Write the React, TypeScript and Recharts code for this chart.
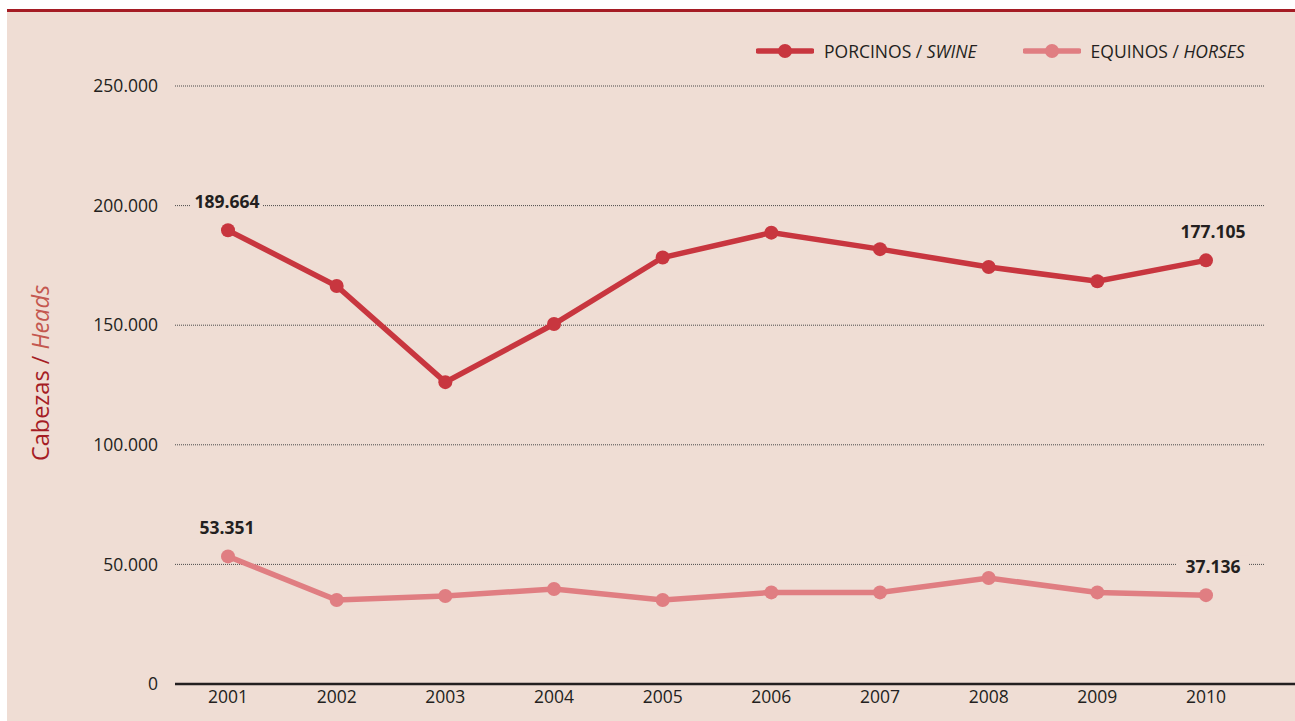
import { LineChart, Line, XAxis, YAxis, CartesianGrid } from 'recharts'

const years = ['2001', '2002', '2003', '2004', '2005', '2006', '2007', '2008', '2009', '2010']
const porcinos = [189664, 166400, 126200, 150500, 178300, 188700, 181800, 174300, 168400, 177105]
const equinos = [53351, 35100, 36800, 39700, 35100, 38300, 38300, 44300, 38300, 37136]
const yTicks = [0, 50000, 100000, 150000, 200000, 250000]

const data = years.map((year, i) => ({
  year,
  porcinos: porcinos[i],
  equinos: equinos[i],
}))

const FONT = '"Open Sans", "Noto Sans", sans-serif'
const TEXT = '#231F20'
const RED = '#C8363F'
const PINK = '#E07E82'
const BG = '#EFDDD4'

const fmt = (v: number) =>
  v === 0 ? '0' : Math.round(v).toString().replace(/\B(?=(\d{3})+(?!\d))/g, '.')

function endLabel(props: any) {
  const { x, y, value, index } = props
  if (index !== 0 && index !== years.length - 1) return null
  const cx = x + (index === 0 ? -1 : 7)
  const cy = y - 29
  const w = 72
  return (
    <g>
      <rect x={cx - w / 2} y={cy - 11} width={w} height={22} fill={BG} />
      <text
        x={cx}
        y={cy}
        textAnchor="middle"
        dominantBaseline="central"
        fontFamily={FONT}
        fontWeight={700}
        fontSize={17.5}
        fill={TEXT}
      >
        {fmt(value)}
      </text>
    </g>
  )
}

function gridLine(props: any) {
  const { y1, y2, x1, x2 } = props
  if (Math.abs(y1 - 672) < 2) return <g key={props.key ?? y1} />
  return (
    <line
      key={props.key ?? y1}
      x1={x1}
      x2={x2 - 30}
      y1={y1}
      y2={y2}
      stroke="#4a4a4a"
      strokeWidth={1}
      strokeDasharray="1 1"
    />
  )
}

function LegendBox() {
  const items = [
    { color: RED, main: 'PORCINOS / ', it: 'SWINE', gap: 0 },
    { color: PINK, main: 'EQUINOS / ', it: 'HORSES', gap: 46 },
  ]
  return (
    <div style={{ display: 'flex', alignItems: 'center', fontFamily: FONT, fontSize: 17.5, color: TEXT }}>
      {items.map((it) => (
        <div key={it.main} style={{ display: 'flex', alignItems: 'center', marginLeft: it.gap }}>
          <svg width={58} height={16} style={{ marginRight: 10 }}>
            <line x1={2} x2={56} y1={8} y2={8} stroke={it.color} strokeWidth={5.5} strokeLinecap="round" />
            <circle cx={29} cy={8} r={7} fill={it.color} />
          </svg>
          <span>
            {it.main}
            <i>{it.it}</i>
          </span>
        </div>
      ))}
    </div>
  )
}

function YLabel(props: any) {
  const vb = props.viewBox
  const x = 33
  const y = vb.y + vb.height / 2 - 12
  return (
    <text
      x={x}
      y={y}
      transform={`rotate(-90 ${x} ${y})`}
      textAnchor="middle"
      dominantBaseline="central"
      fontFamily={FONT}
      fontSize={23.5}
    >
      <tspan fill="#A51C24">Cabezas / </tspan>
      <tspan fill="#C4574F" fontStyle="italic">Heads</tspan>
    </text>
  )
}

export default function App() {
  return (
    <div style={{ position: 'absolute', left: 0, top: 0, width: 1295, height: 721, background: '#fff', overflow: 'hidden' }}>
      <div style={{ position: 'absolute', left: 7, top: 9, width: 1288, height: 3, background: '#A51C24' }} />
      <div style={{ position: 'absolute', left: 7, top: 12, width: 1288, height: 709, background: BG }}>
        <LineChart width={1288} height={709} data={data} margin={{ top: 74, right: 0, bottom: 0, left: 0 }}>
          <CartesianGrid vertical={false} horizontal={gridLine} />
          <XAxis
            dataKey="year"
            padding={{ left: 53, right: 89 }}
            height={37}
            tickLine={false}
            tickSize={0}
            tickMargin={7}
            axisLine={{ stroke: TEXT, strokeWidth: 2.5 }}
            tick={{ fill: TEXT, fontSize: 17.5, fontFamily: FONT }}
          />
          <YAxis
            width={168}
            domain={[0, 250000]}
            ticks={yTicks}
            tickFormatter={fmt}
            axisLine={false}
            tickLine={false}
            tickSize={0}
            tickMargin={17}
            tick={{ fill: TEXT, fontSize: 17.5, fontFamily: FONT }}
            label={<YLabel />}
          />
          <Line
            dataKey="porcinos"
            stroke={RED}
            strokeWidth={5.5}
            dot={{ r: 7, fill: RED, stroke: 'none' }}
            activeDot={false}
            label={endLabel}
            isAnimationActive={false}
          />
          <Line
            dataKey="equinos"
            stroke={PINK}
            strokeWidth={5.5}
            dot={{ r: 7, fill: PINK, stroke: 'none' }}
            activeDot={false}
            label={endLabel}
            isAnimationActive={false}
          />
        </LineChart>
        <div style={{ position: 'absolute', left: 749, top: 27 }}>
          <LegendBox />
        </div>
      </div>
    </div>
  )
}
